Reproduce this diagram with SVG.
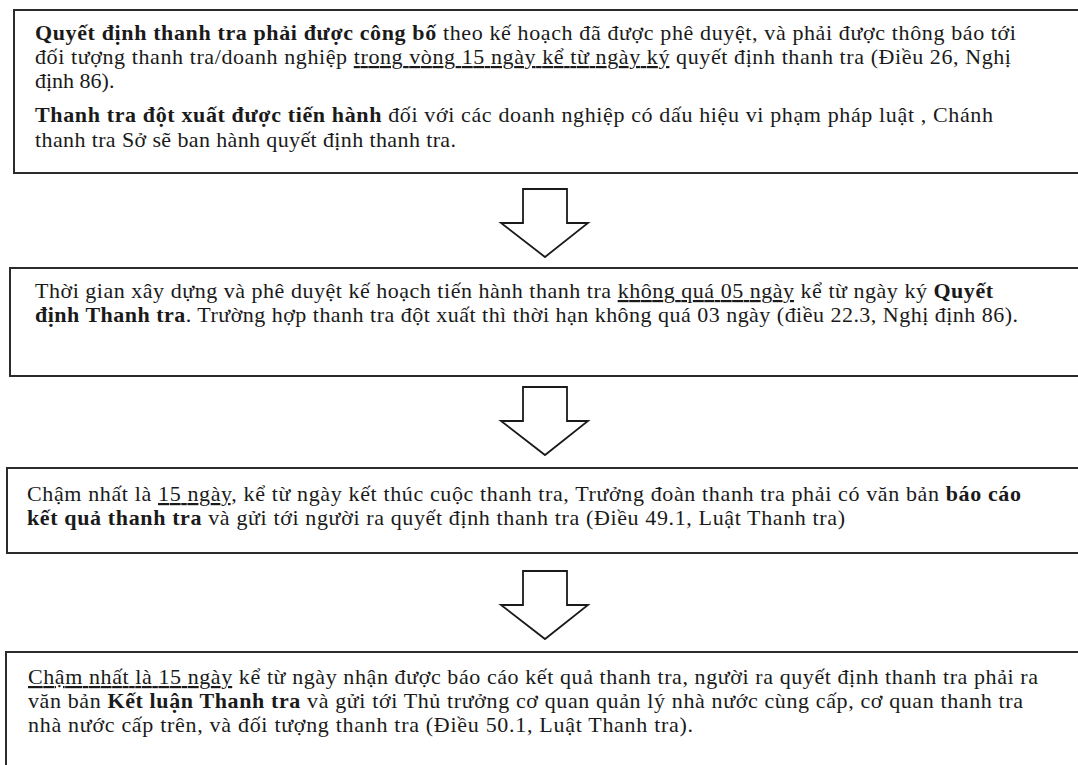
<svg xmlns="http://www.w3.org/2000/svg" width="1078" height="765" viewBox="0 0 1078 765">
  <style>
    .box { fill: #ffffff; stroke: #2b2b2b; stroke-width: 2; }
    .arrow { fill: #ffffff; stroke: #1a1a1a; stroke-width: 1.8; stroke-linejoin: miter; }
    text { font-family: "Liberation Serif", "Times New Roman", serif; font-size: 22px; fill: #1a1a1a; }
    .b { font-weight: bold; }
    .u { text-decoration: underline; }
  </style>
  <rect width="1078" height="765" fill="#ffffff"/>

  <!-- step 1: publishing the inspection decision -->
  <g id="step-decision">
    <rect class="box" x="14" y="10" width="1080" height="163"/>
    <text x="35" y="40" textLength="981" lengthAdjust="spacing"><tspan class="b">Quyết định thanh tra phải được công bố</tspan> theo kế hoạch đã được phê duyệt, và phải được thông báo tới</text>
    <text x="35" y="64" textLength="976" lengthAdjust="spacing">đối tượng thanh tra/doanh nghiệp <tspan class="u">trong vòng 15 ngày kể từ ngày ký</tspan> quyết định thanh tra (Điều 26, Nghị</text>
    <text x="35" y="88">định 86).</text>
    <text x="35" y="122" textLength="958" lengthAdjust="spacing"><tspan class="b">Thanh tra đột xuất được tiến hành</tspan> đối với các doanh nghiệp có dấu hiệu vi phạm pháp luật , Chánh</text>
    <text x="35" y="147" textLength="421" lengthAdjust="spacing">thanh tra Sở sẽ ban hành quyết định thanh tra.</text>
  </g>

  <!-- step 2: planning period -->
  <g id="step-plan">
    <rect class="box" x="10" y="268" width="1085" height="108"/>
    <text x="35" y="298" textLength="958" lengthAdjust="spacing">Thời gian xây dựng và phê duyệt kế hoạch tiến hành thanh tra <tspan class="u">không quá 05 ngày</tspan> kể từ ngày ký <tspan class="b">Quyết</tspan></text>
    <text x="35" y="322" textLength="983" lengthAdjust="spacing"><tspan class="b">định Thanh tra</tspan>. Trường hợp thanh tra đột xuất thì thời hạn không quá 03 ngày (điều 22.3, Nghị định 86).</text>
  </g>

  <!-- step 3: inspection result report -->
  <g id="step-report">
    <rect class="box" x="7" y="468" width="1090" height="85"/>
    <text x="27" y="501" textLength="994" lengthAdjust="spacing">Chậm nhất là <tspan class="u">15 ngày</tspan>, kể từ ngày kết thúc cuộc thanh tra, Trưởng đoàn thanh tra phải có văn bản <tspan class="b">báo cáo</tspan></text>
    <text x="27" y="525" textLength="818" lengthAdjust="spacing"><tspan class="b">kết quả thanh tra</tspan> và gửi tới người ra quyết định thanh tra (Điều 49.1, Luật Thanh tra)</text>
  </g>

  <!-- step 4: inspection conclusion -->
  <g id="step-conclusion">
    <rect class="box" x="6" y="652" width="1090" height="130"/>
    <text x="28" y="684" textLength="1010" lengthAdjust="spacing"><tspan class="u">Chậm nhất là 15 ngày</tspan> kể từ ngày nhận được báo cáo kết quả thanh tra, người ra quyết định thanh tra phải ra</text>
    <text x="28" y="708" textLength="995" lengthAdjust="spacing">văn bản <tspan class="b">Kết luận Thanh tra</tspan> và gửi tới Thủ trưởng cơ quan quản lý nhà nước cùng cấp, cơ quan thanh tra</text>
    <text x="28" y="732" textLength="665" lengthAdjust="spacing">nhà nước cấp trên, và đối tượng thanh tra (Điều 50.1, Luật Thanh tra).</text>
  </g>

  <!-- block arrows between steps -->
  <g id="connectors">
    <path class="arrow" d="M523 189 H567 V223 H588 L545 257 L501 223 H523 Z"/>
    <path class="arrow" d="M523 387 H567 V421 H588 L545 455 L501 421 H523 Z"/>
    <path class="arrow" d="M523 571 H567 V605 H588 L545 639 L501 605 H523 Z"/>
  </g>
</svg>
